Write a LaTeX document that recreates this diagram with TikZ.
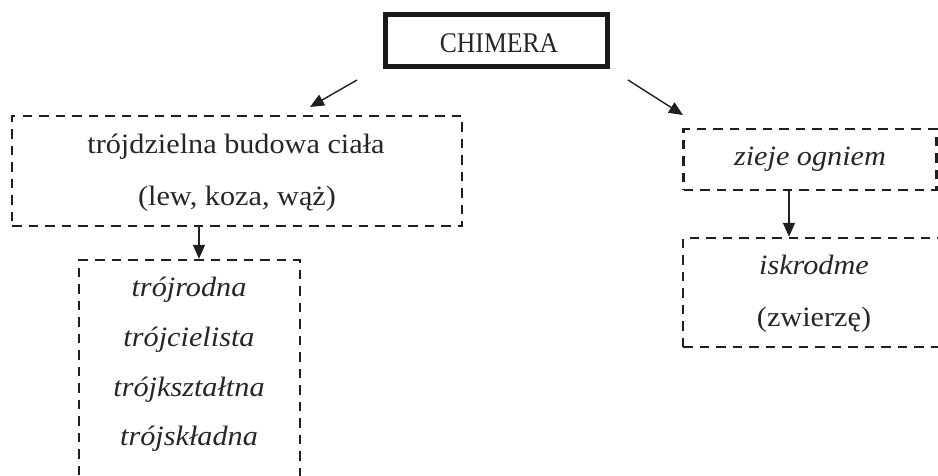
\documentclass[tikz,border=0pt]{standalone}
\usepackage{fontspec}
\setmainfont{Liberation Serif}
\newfontfamily\widefont{Liberation Serif}[FakeStretch=1.08]
\newfontfamily\narrowfont{Liberation Serif}[FakeStretch=0.9]
\usetikzlibrary{arrows.meta}
\begin{document}
\begin{tikzpicture}[x=1pt,y=-1pt,
  dbox/.style={draw=black!88,line width=2.4pt,dash pattern=on 9.5pt off 7pt},
  arr/.style={draw=black!88,line width=1.4pt,-{Triangle[length=14pt,width=12pt]}},
  txt/.style={anchor=base,inner sep=0pt,text=black!85,font=\widefont\fontsize{28}{32}\selectfont},
  itxt/.style={txt,font=\widefont\fontsize{28}{32}\selectfont\itshape}]
\useasboundingbox (0,0) rectangle (938,475);
\clip (0,0) rectangle (938,475);
% boxes
\node[draw=black!90,line width=5pt,minimum width=222pt,minimum height=52pt,inner sep=0pt] (chim) at (496.5,40.5) {};
\node[dbox,minimum width=450pt,minimum height=110pt,inner sep=0pt] (b1) at (237,171) {};
\node[dbox,minimum width=221pt,minimum height=260pt,inner sep=0pt] (b2) at (189.5,390) {};
\node[dbox,minimum width=253pt,minimum height=61pt,inner sep=0pt] (r1) at (810,159.5) {};
\node[dbox,minimum width=300pt,minimum height=109pt,inner sep=0pt] (r2) at (833,292.5) {};
% texts
\node[txt,font=\narrowfont\fontsize{28.5}{32}\selectfont] (tchim) at (499,52.5) {CHIMERA};
\node[txt] (t1a) at (236,153) {trójdzielna budowa ciała};
\node[txt] (t1b) at (237,205) {(lew, koza, wąż)};
\node[itxt] (t2a) at (189,296) {trójrodna};
\node[itxt] (t2b) at (189,346.5) {trójcielista};
\node[itxt] (t2c) at (189,396.5) {trójkształtna};
\node[itxt] (t2d) at (189,445.5) {trójskładna};
\node[itxt] (tr1) at (810,165) {zieje ogniem};
\node[itxt] (tr2a) at (814,274) {iskrodme};
\node[txt] (tr2b) at (814,326) {(zwierzę)};
% arrow ends
\coordinate (la) at (357,80);
\coordinate (lb) at (310,107);
\coordinate (ra) at (628,80);
\coordinate (rb) at (683,115);
\draw[arr] (la) -- (lb);
\draw[arr] (ra) -- (rb);
\draw[arr] (b1.south -| 199,0) -- (b2.north -| 199,0);
\draw[arr] (r1.south -| 789,0) -- (r2.north -| 789,0);
\end{tikzpicture}
\end{document}
